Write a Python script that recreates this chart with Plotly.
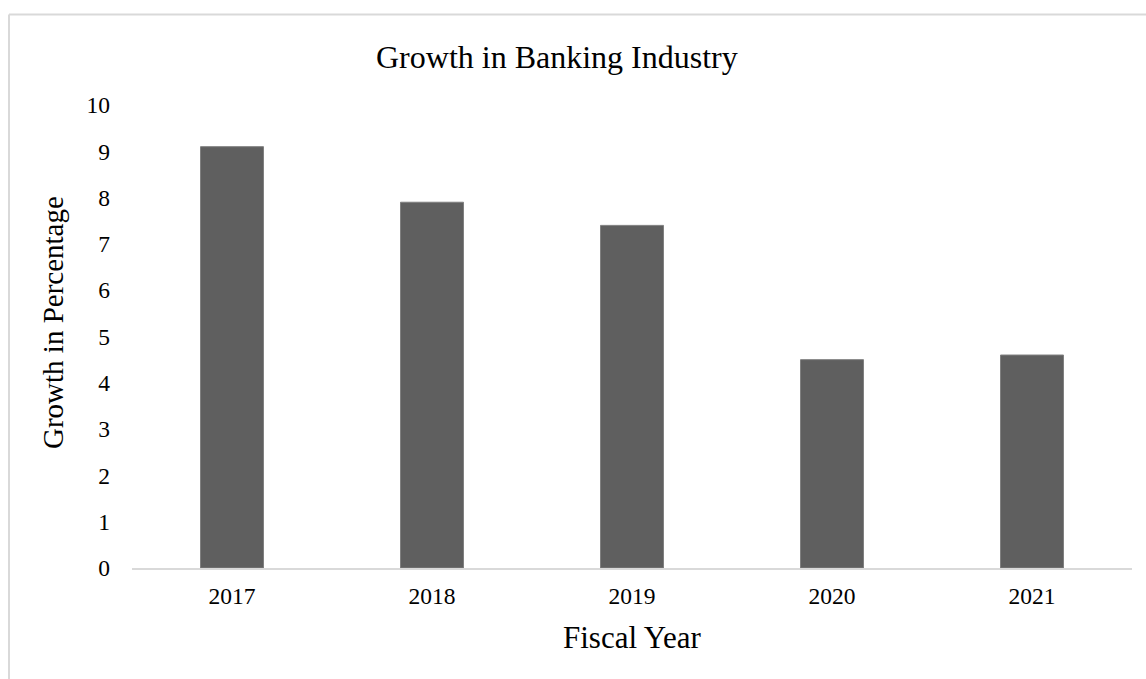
import plotly.graph_objects as go

years = ["2017", "2018", "2019", "2020", "2021"]
growth = [9.1, 7.9, 7.4, 4.5, 4.6]
y_ticks = [0, 1, 2, 3, 4, 5, 6, 7, 8, 9, 10]

W, H = 1146, 679
L, R, T, B = 132, 14, 105, 111
pw, ph = W - L - R, H - T - B

def px(x):
    return (x - L) / pw

def py(y):
    return (H - B - y) / ph

FONT = "Liberation Serif, Times New Roman, serif"

fig = go.Figure(go.Bar(
    x=years, y=growth,
    marker=dict(color="#5f5f5f", line=dict(color="#808080", width=1)),
    width=0.315,
))

fig.update_layout(
    width=W, height=H,
    margin=dict(l=L, r=R, t=T, b=B),
    paper_bgcolor="white", plot_bgcolor="white",
    font=dict(family=FONT, color="black"),
    showlegend=False,
    xaxis=dict(showline=True, linecolor="#d9d9d9", linewidth=1.5,
               showgrid=False, ticks="", tickfont=dict(size=23.5),
               ticklabelstandoff=6, fixedrange=True),
    yaxis=dict(range=[0, 10], tickvals=y_ticks, showgrid=False, zeroline=False,
               showline=False, ticks="", tickfont=dict(size=23.5),
               ticklabelstandoff=21, fixedrange=True),
    annotations=[
        dict(text="Growth in Banking Industry", x=px(557), y=py(57), xref="paper", yref="paper",
             showarrow=False, font=dict(size=32, family=FONT), xanchor="center", yanchor="middle"),
        dict(text="Fiscal Year", x=px(632), y=py(637), xref="paper", yref="paper",
             showarrow=False, font=dict(size=31, family=FONT), xanchor="center", yanchor="middle"),
        dict(text="Growth in Percentage", x=px(53), y=py(323), xref="paper", yref="paper",
             showarrow=False, textangle=-90, font=dict(size=29, family=FONT),
             xanchor="center", yanchor="middle"),
    ],
    shapes=[
        dict(type="line", xref="paper", yref="paper", x0=px(9), x1=px(9), y0=py(H + 5), y1=py(14.5),
             line=dict(color="#d9d9d9", width=2)),
        dict(type="line", xref="paper", yref="paper", x0=px(9), x1=px(W + 5), y0=py(14.5), y1=py(14.5),
             line=dict(color="#d9d9d9", width=2)),
    ],
)

fig.write_html("out.html")
